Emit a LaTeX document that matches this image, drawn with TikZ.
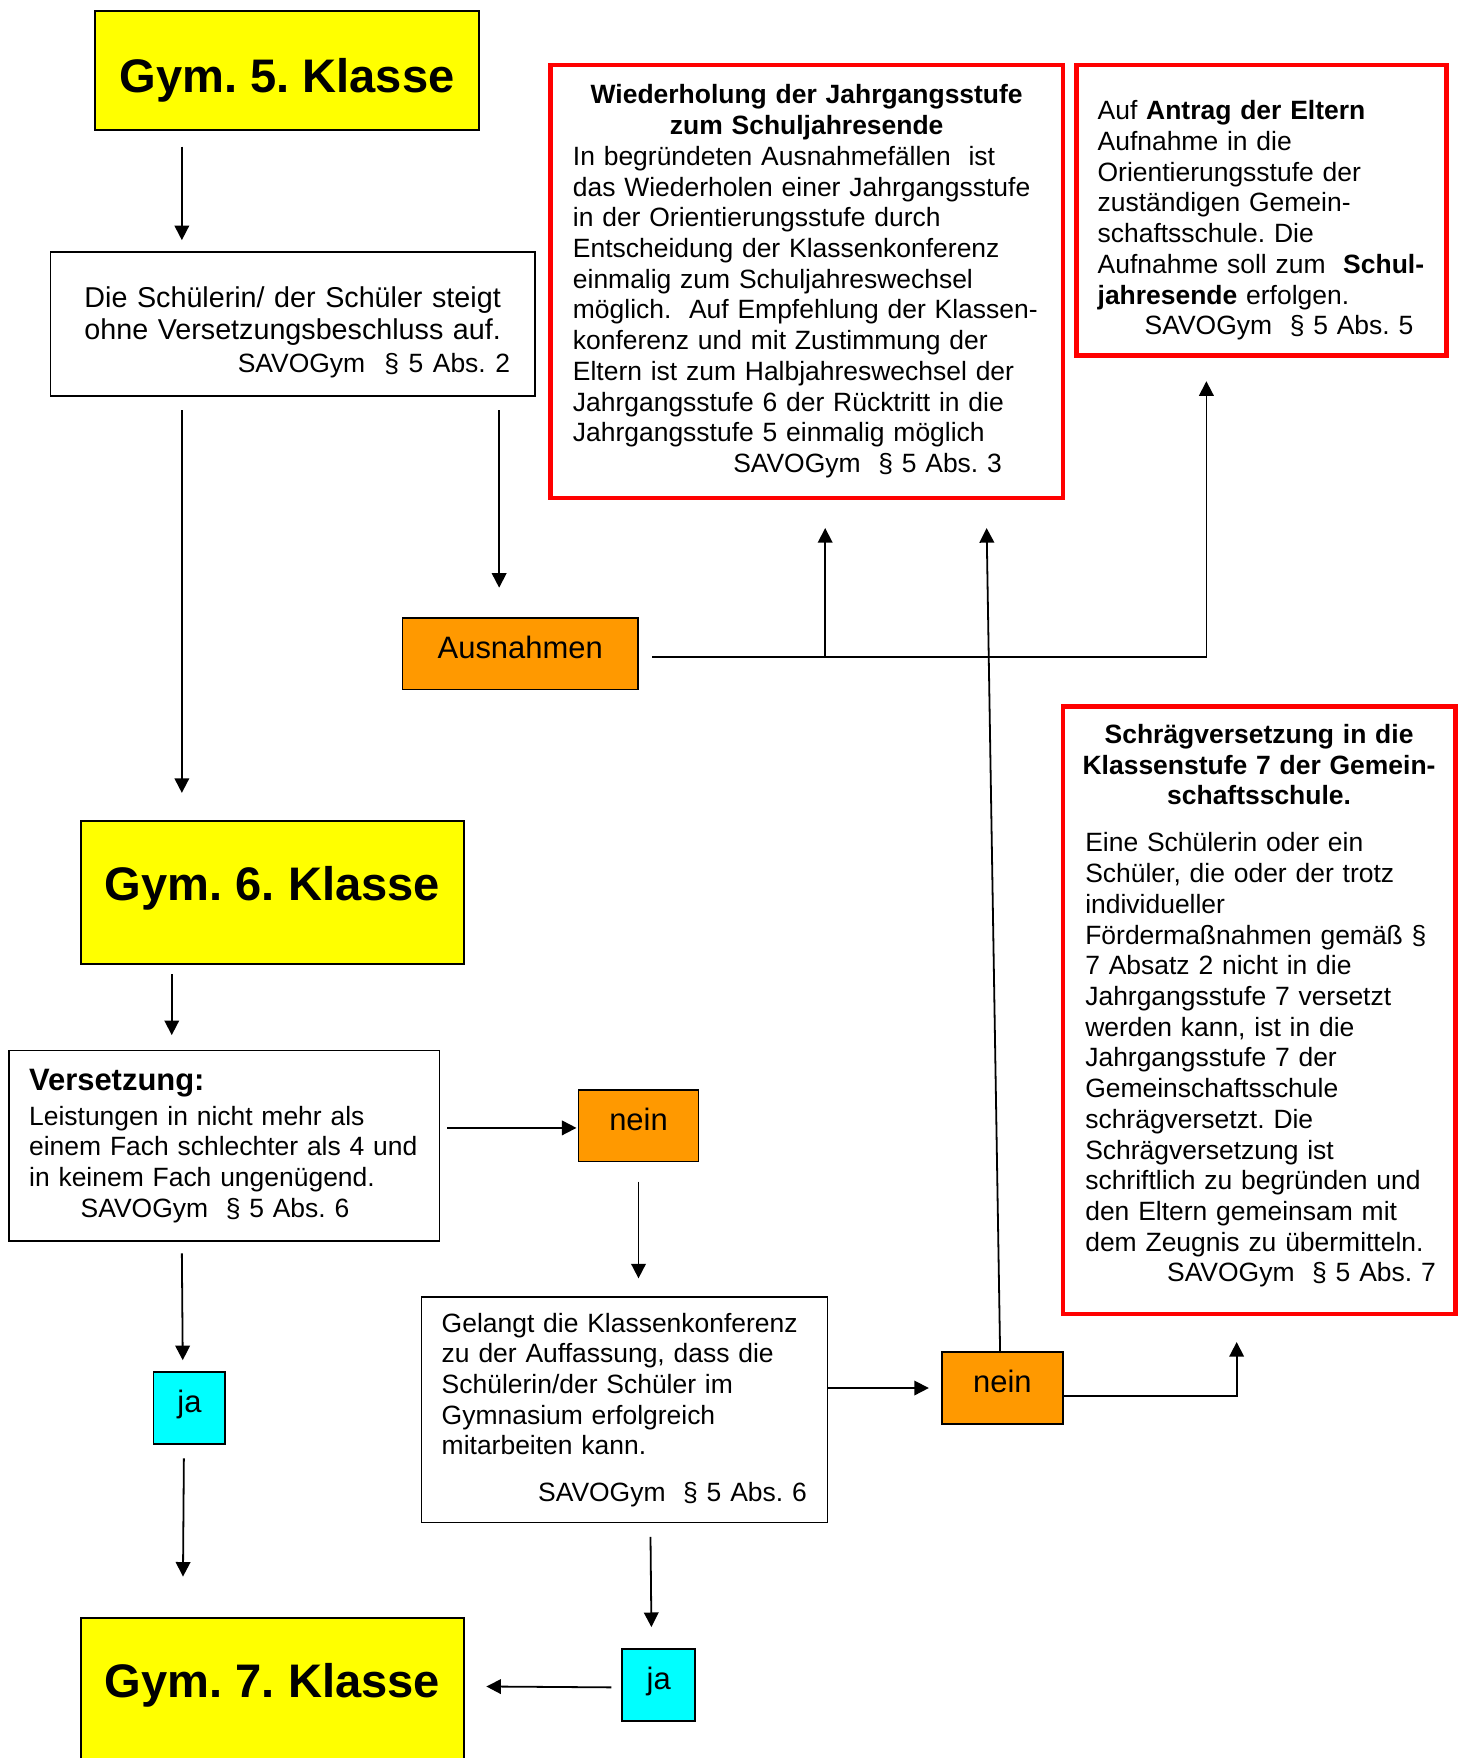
\documentclass[tikz,border=0pt]{standalone}
\usepackage{fontspec}
\setmainfont{Liberation Sans}
\usetikzlibrary{arrows.meta, positioning, calc}

\definecolor{gymgelb}{HTML}{FFFF00}
\definecolor{ausorange}{HTML}{FF9900}
\definecolor{jacyan}{HTML}{00FFFF}
\definecolor{regelrot}{HTML}{FF0000}

\frenchspacing

\begin{document}
\begin{tikzpicture}[
    x=0.5pt, y=-0.5pt,
    klasse/.style={rectangle, draw, line width=0.8pt, fill=gymgelb, inner sep=0pt, minimum width=171pt, minimum height=64pt, font=\fontsize{21}{24}\selectfont\bfseries, text height=15.4pt, text depth=8pt},
    regel/.style={rectangle, draw, line width=0.8pt, fill=white, inner sep=0pt, align=left, font=\fontsize{11.8}{13.7}\selectfont},
    ausnahme/.style={rectangle, draw=regelrot, line width=2pt, fill=white, inner sep=0pt, align=left, font=\fontsize{11.8}{13.7}\selectfont},
    antwort/.style={rectangle, draw, line width=0.8pt, inner sep=0pt, minimum height=32pt, font=\fontsize{13.8}{16}\selectfont, text height=10pt, text depth=6pt},
    arrow/.style={-{Triangle[length=6.5pt, width=6.5pt]}, line width=0.8pt}
]
    \useasboundingbox (0,0) rectangle (1300,1568);
    \fill[white] (0,0) rectangle (1300,1568);

    % Klassenstufen
    \node [klasse, minimum height=53pt, text height=19.6pt, text depth=0pt] (gym5) at (256,63) {Gym. 5. Klasse};
    \node [klasse] (gym6) at (243,796) {Gym. 6. Klasse};
    \node [klasse] (gym7) at (243,1507) {Gym. 7. Klasse};

    % Regeln
    \node [regel, minimum width=216pt, minimum height=64pt, text width=194pt, align=center, font=\fontsize{12.8}{14.5}\selectfont] (die) at (261,289)
        {\rule{0pt}{16.3pt}Die Schülerin/ der Schüler steigt\\ohne Versetzungsbeschluss auf.\\\makebox[\linewidth][r]{\fontsize{11.8}{13.7}\selectfont SAVOGym~~§~5~Abs.~2}};
    \node [regel, minimum width=192pt, minimum height=85pt, text width=174pt] (vers) at (200,1022)
        {{\fontsize{13.8}{16}\selectfont\bfseries Versetzung:}\\[1.8pt]
         Leistungen in nicht mehr als\\
         einem Fach schlechter als 4 und\\
         in keinem Fach ungenügend.\\
         \hspace*{23pt}\mbox{SAVOGym~~§~5~Abs.~6}};
    \node [regel, minimum width=181pt, minimum height=100.5pt, text width=163pt] (gel) at (557,1257.5)
        {Gelangt die Klassenkonferenz\\
         zu der Auffassung, dass die\\
         Schülerin/der Schüler im\\
         Gymnasium erfolgreich\\
         mitarbeiten kann.\\[7pt]
         \hspace*{43pt}\mbox{SAVOGym~~§~5~Abs.~6}};

    % Ausnahmeregeln
    \node [ausnahme, minimum width=228.5pt, minimum height=193pt, text width=208.5pt] (wied) at (719.5,251)
        {\makebox[\linewidth]{\bfseries Wiederholung der Jahrgangsstufe}\\
         \makebox[\linewidth]{\bfseries zum Schuljahresende}\\
         In begründeten Ausnahmefällen~~ist\\
         das Wiederholen einer Jahrgangsstufe\\
         in der Orientierungsstufe durch\\
         Entscheidung der Klassenkonferenz\\
         einmalig zum Schuljahreswechsel\\
         \mbox{möglich.~~Auf Empfehlung der Klassen-}\\
         konferenz und mit Zustimmung der\\
         Eltern ist zum Halbjahreswechsel der\\
         Jahrgangsstufe 6 der Rücktritt in die\\
         Jahrgangsstufe 5 einmalig möglich\\
         \hspace*{71.5pt}\mbox{SAVOGym~~§~5~Abs.~3}};
    \node [ausnahme, minimum width=165pt, minimum height=129.5pt, text width=146pt] (antrag) at (1125,187.5)
        {\rule{0pt}{17.6pt}Auf \textbf{Antrag der Eltern}\\
         Aufnahme in die\\
         Orientierungsstufe der\\
         zuständigen Gemein-\\
         schaftsschule. Die\\
         \mbox{Aufnahme soll zum~~\textbf{Schul-}}\\
         \textbf{jahresende} erfolgen.\\
         \hspace*{21pt}\mbox{SAVOGym~~§~5~Abs.~5}};
    \node [ausnahme, minimum width=175pt, minimum height=271pt, text width=155pt] (schraeg) at (1123,901)
        {\makebox[\linewidth]{\bfseries Schrägversetzung in die}\\
         \makebox[\linewidth]{\bfseries Klassenstufe 7 der Gemein-}\\
         \makebox[\linewidth]{\bfseries schaftsschule.}\\[7.25pt]
         Eine Schülerin oder ein\\
         Schüler, die oder der trotz\\
         individueller\\
         \mbox{Fördermaßnahmen gemäß §}\\
         7 Absatz 2 nicht in die\\
         Jahrgangsstufe 7 versetzt\\
         werden kann, ist in die\\
         Jahrgangsstufe 7 der\\
         Gemeinschaftsschule\\
         schrägversetzt. Die\\
         Schrägversetzung ist\\
         \mbox{schriftlich zu begründen und}\\
         den Eltern gemeinsam mit\\
         dem Zeugnis zu übermitteln.\\
         \hspace*{36.5pt}\mbox{SAVOGym~~§~5~Abs.~7}\rule[-6.3pt]{0pt}{6.3pt}};

    % Antworten
    \node [antwort, fill=ausorange, minimum width=105pt] (ausn) at (464,583) {Ausnahmen};
    \node [antwort, fill=ausorange, minimum width=53.5pt] (nein1) at (569.5,1004) {nein};
    \node [antwort, fill=ausorange, minimum width=53.75pt] (nein2) at (894,1238) {nein};
    \node [antwort, fill=jacyan, minimum width=32pt] (ja1) at (169,1256) {ja};
    \node [antwort, fill=jacyan, minimum width=32.5pt] (ja2) at (587.5,1503) {ja};

    % Verbindungen
    \draw [arrow] ($(gym5.south west)+(78,14)$) -- ($(die.north west)+(118,-10)$);
    \draw [arrow] ($(die.south west)+(118,12)$) -- ($(gym6.north west)+(91,-24)$);
    \draw [arrow] ($(die.south west)+(401,12)$) -- ($(ausn.north west)+(87,-26)$);
    \coordinate (aus) at ($(ausn.east)+(12,3)$);
    \coordinate (wtip) at ($(wied.south west)+(247,25)$);
    \draw [arrow] (aus) -| ($(antrag.south west)+(118,21)$);
    \draw [arrow] (aus -| wtip) -- (wtip);
    \draw [arrow] ($(gym6.south west)+(82,8)$) -- ($(vers.north west)+(146,-13)$);
    \draw [arrow] ($(vers.east)+(6,-16)$) -- ($(nein1.west)+(-1,2)$);
    \draw [arrow] ($(nein1.south)+(0,17)$) -- ($(gel.north)+(12.5,-16)$);
    \draw [arrow] ($(vers.south west)+(155,10)$) -- ($(ja1.north)+(-6,-10)$);
    \draw [arrow] ($(ja1.south)+(-5,12)$) -- ($(gym7.north west)+(92,-36)$);
    \draw [arrow] ($(gel.east)+(0,-19.5)$) -- ($(nein2.west)+(-11,0)$);
    \draw [arrow] ($(nein2.east)+(0,7)$) -| ($(schraeg.south west)+(157,23)$);
    \draw [arrow] ($(nein2.north)+(-2,0)$) -- ($(wied.south west)+(391,25)$);
    \draw [arrow] ($(gel.south west)+(205,12)$) -- ($(ja2.north)+(-6.5,-19)$);
    \draw [arrow] ($(ja2.west)+(-9,2)$) -- ($(gym7.north east)+(19,62)$);
\end{tikzpicture}
\end{document}
